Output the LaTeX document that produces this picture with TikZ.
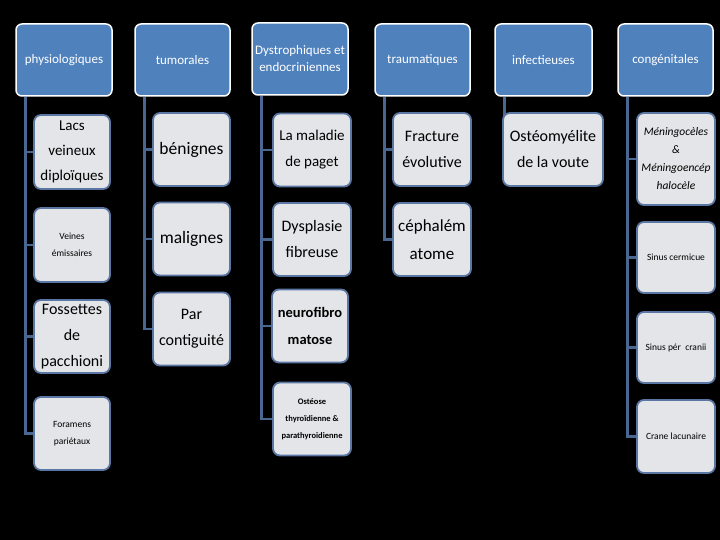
\documentclass[tikz,border=0pt]{standalone}
\usepackage{fontspec}
\setmainfont{Carlito}
\pgfdeclarelayer{bbg}
\pgfdeclarelayer{bg}
\pgfsetlayers{bbg,bg,main}
\definecolor{hdrfill}{HTML}{4F81BD}
\definecolor{chfill}{HTML}{E4E5E8}
\definecolor{chdraw}{HTML}{5A76A2}
\definecolor{linec}{HTML}{4A6792}
\tikzset{
  hdr/.style={draw=white, line width=1.5pt, fill=hdrfill, rounded corners=6pt,
    minimum width=96pt, minimum height=72pt, text=white, align=center,
    font=\fontsize{13}{17}\selectfont, inner sep=1pt},
  chbox/.style={draw=chdraw, line width=1.8pt, fill=chfill, rounded corners=7pt,
    minimum width=77pt, minimum height=73pt, text=black, align=center, inner sep=1pt},
  big/.style={font=\fontsize{16}{26}\selectfont},
  small/.style={font=\fontsize{9.5}{16.5}\selectfont},
  conn/.style={draw=linec, line width=2.5pt}
}
\begin{document}
\begin{tikzpicture}[x=1pt,y=-1pt]
\begin{pgfonlayer}{bbg}
\fill[black] (0,0) rectangle (720,540);
\end{pgfonlayer}
\useasboundingbox (0,0) rectangle (720,540);
% headers
\node[hdr] (h1) at (64,60) {physiologiques};
\node[hdr, minimum width=95pt] (h2) at (182.5,60) {tumorales};
\node[hdr] (h3) at (300,59) {Dystrophiques et\\endocriniennes};
\node[hdr, minimum width=95pt] (h4) at (422.5,60) {traumatiques};
\node[hdr, minimum width=97pt] (h5) at (543.5,60) {infectieuses};
\node[hdr, minimum width=95pt] (h6) at (665.5,60) {congénitales};
% column 1
\node[chbox, minimum width=76pt, minimum height=74pt, font=\fontsize{15}{25}\selectfont] (c11) at (72,152) {Lacs\\veineux\\diploïques};
\node[chbox, small, minimum width=76pt, minimum height=74pt] (c12) at (72,245) {Veines\\émissaires};
\node[chbox, minimum width=76pt, font=\fontsize{16}{26}\selectfont] (c13) at (72,336.5) {Fossettes\\de\\pacchioni};
\node[chbox, small, minimum width=76pt] (c14) at (72,433.5) {Foramens\\pariétaux};
% column 2
\node[chbox, font=\fontsize{17.5}{23}\selectfont] (c21) at (191.5,149.5) {bénignes};
\node[chbox, font=\fontsize{17.5}{23}\selectfont] (c22) at (191.5,239) {malignes};
\node[chbox, big] (c23) at (191.5,329) {Par\\contiguité};
% column 3
\node[chbox, big, minimum width=78pt, font=\fontsize{15}{26}\selectfont] (c31) at (312,150) {La maladie\\de paget};
\node[chbox, big, minimum width=78pt] (c32) at (312,239.5) {Dysplasie\\fibreuse};
\node[chbox, minimum width=76pt, font=\bfseries\fontsize{14.5}{27}\selectfont] (c33) at (310,326) {neurofibro\\matose};
\node[chbox, minimum width=78pt, font=\bfseries\fontsize{8.5}{17}\selectfont] (c34) at (312,419) {Ostéose\\thyroïdienne \&\\parathyroidienne};
% column 4
\node[chbox, big, minimum width=78pt, font=\fontsize{16}{26}\selectfont] (c41) at (432,149.5) {Fracture\\évolutive};
\node[chbox, minimum width=78pt, font=\fontsize{17}{28}\selectfont] (c42) at (432,239.5) {céphalém\\atome};
% column 5
\node[chbox, minimum width=100pt, font=\fontsize{16}{26}\selectfont] (c51) at (553,149.5) {Ostéomyélite\\de la voute};
% column 6
\node[chbox, minimum width=78pt, minimum height=92pt, font=\itshape\fontsize{11.5}{18}\selectfont] (c61) at (676,159) {Méningocèles\\\&\\Méningoencép\\halocèle};
\node[chbox, small, minimum width=78pt, minimum height=71pt] (c62) at (676,257.5) {Sinus cermicue};
\node[chbox, small, minimum width=78pt, minimum height=71pt] (c63) at (676,347.5) {Sinus pér\ \ cranii};
\node[chbox, small, minimum width=78pt] (c64) at (676,436.5) {Crane lacunaire};
% connectors
\begin{pgfonlayer}{bg}
\foreach \h/\c in {h1/c11,h1/c12,h1/c13,h1/c14,h2/c21,h2/c22,h2/c23,
  h3/c31,h3/c32,h3/c33,h3/c34,h4/c41,h4/c42,h5/c51,h6/c61,h6/c62,h6/c63,h6/c64}
  \draw[conn] ([xshift=10pt]\h.south west) |- (\c.west);
\end{pgfonlayer}
\end{tikzpicture}
\end{document}
